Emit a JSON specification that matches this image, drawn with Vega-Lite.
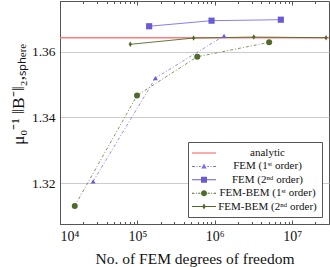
{
  "$schema": "https://vega.github.io/schema/vega-lite/v6.json",
  "width": 269,
  "height": 223,
  "autosize": {"type": "none"},
  "padding": {"left": 60, "top": 1, "right": 1, "bottom": 43},
  "background": "white",
  "config": {
    "view": {"stroke": "#555", "strokeWidth": 1},
    "font": "Liberation Serif",
    "axis": {"labelFont": "Liberation Serif", "titleFont": "Liberation Serif", "labelColor": "#111", "titleColor": "#111", "titleFontWeight": "normal", "domainColor": "#555", "tickColor": "#555"}
  },
  "datasets": {
    "pts": [
      {"series": "FEM (1ˢᵗ order)", "dofs": 26800, "value": 1.3205},
      {"series": "FEM (1ˢᵗ order)", "dofs": 171000, "value": 1.352},
      {"series": "FEM (1ˢᵗ order)", "dofs": 1320000, "value": 1.3649},
      {"series": "FEM (2ⁿᵈ order)", "dofs": 142000, "value": 1.3678},
      {"series": "FEM (2ⁿᵈ order)", "dofs": 910000, "value": 1.3695},
      {"series": "FEM (2ⁿᵈ order)", "dofs": 7150000, "value": 1.3698},
      {"series": "FEM-BEM (1ˢᵗ order)", "dofs": 15500, "value": 1.313},
      {"series": "FEM-BEM (1ˢᵗ order)", "dofs": 99000, "value": 1.3467},
      {"series": "FEM-BEM (1ˢᵗ order)", "dofs": 595000, "value": 1.3585},
      {"series": "FEM-BEM (1ˢᵗ order)", "dofs": 5050000, "value": 1.3629},
      {"series": "FEM-BEM (2ⁿᵈ order)", "dofs": 81000, "value": 1.3623},
      {"series": "FEM-BEM (2ⁿᵈ order)", "dofs": 533000, "value": 1.3642},
      {"series": "FEM-BEM (2ⁿᵈ order)", "dofs": 3200000, "value": 1.3645},
      {"series": "FEM-BEM (2ⁿᵈ order)", "dofs": 27500000, "value": 1.3643}
    ],
    "ref": [{"series": "analytic", "value": 1.3643}]
  },
  "layer": [
    {
      "data": {"name": "ref"},
      "mark": {"type": "rule", "color": "#ff7b7b", "strokeWidth": 1.3},
      "encoding": {
        "y": {"field": "value", "type": "quantitative", "scale": {"domain": [1.3075, 1.3755], "nice": false, "zero": false},
          "axis": {"values": [1.32, 1.34, 1.36], "format": ".2f", "title": "μ₀⁻¹ ‖B⁻‖₂,ₛₚₕₑᵣₑ", "titleFontSize": 17.5, "titleY": 93, "labelFontSize": 13.5, "grid": true, "gridColor": "#cccccc", "ticks": false, "labelPadding": 5, "titlePadding": 4}}
      }
    },
    {
      "data": {"name": "pts"},
      "transform": [{"filter": "datum.series === 'FEM (1ˢᵗ order)'"}],
      "mark": {"type": "line", "strokeWidth": 0.8, "color": "#7a6ef0", "strokeDash": [3, 2, 1, 2]},
      "encoding": {
        "x": {"field": "dofs", "type": "quantitative",
          "scale": {"type": "log", "domain": [10000, 30000000], "nice": false},
          "axis": {"orient": "bottom", "title": "No. of FEM degrees of freedom", "titleFontSize": 15.5, "labelFontSize": 14, "grid": false, "labelOverlap": false, "labelPadding": 9, "titlePadding": 7,
            "values": [10000, 20000, 30000, 40000, 50000, 60000, 70000, 80000, 90000, 100000, 200000, 300000, 400000, 500000, 600000, 700000, 800000, 900000, 1000000, 2000000, 3000000, 4000000, 5000000, 6000000, 7000000, 8000000, 9000000, 10000000, 20000000],
            "labelExpr": "abs(log(datum.value)/LN10 - round(log(datum.value)/LN10)) < 0.001 ? '10' + ['⁰','¹','²','³','⁴','⁵','⁶','⁷','⁸','⁹'][round(log(datum.value)/LN10)] : ''",
            "tickSize": {"condition": {"test": "abs(log(datum.value)/LN10 - round(log(datum.value)/LN10)) < 0.001", "value": -4}, "value": -2.5}}},
        "y": {"field": "value", "type": "quantitative"}
      }
    },
    {
      "data": {"name": "pts"},
      "transform": [{"filter": "datum.series === 'FEM (2ⁿᵈ order)'"}],
      "mark": {"type": "line", "strokeWidth": 0.9, "color": "#7a6ef0"},
      "encoding": {
        "x": {"field": "dofs", "type": "quantitative",
          "axis": {"orient": "top", "title": null, "labels": false, "grid": false, "domain": false,
            "values": [10000, 20000, 30000, 40000, 50000, 60000, 70000, 80000, 90000, 100000, 200000, 300000, 400000, 500000, 600000, 700000, 800000, 900000, 1000000, 2000000, 3000000, 4000000, 5000000, 6000000, 7000000, 8000000, 9000000, 10000000, 20000000],
            "tickSize": {"condition": {"test": "abs(log(datum.value)/LN10 - round(log(datum.value)/LN10)) < 0.001", "value": -4}, "value": -2.5}}},
        "y": {"field": "value", "type": "quantitative"}
      }
    },
    {
      "data": {"name": "pts"},
      "transform": [{"filter": "datum.series === 'FEM-BEM (1ˢᵗ order)'"}],
      "mark": {"type": "line", "strokeWidth": 0.8, "color": "#5f7a3a", "strokeDash": [3, 2, 1, 2]},
      "encoding": {
        "x": {"field": "dofs", "type": "quantitative", "axis": null},
        "y": {"field": "value", "type": "quantitative"}
      }
    },
    {
      "data": {"name": "pts"},
      "transform": [{"filter": "datum.series === 'FEM-BEM (2ⁿᵈ order)'"}],
      "mark": {"type": "line", "strokeWidth": 0.9, "color": "#4f6b2a"},
      "encoding": {
        "x": {"field": "dofs", "type": "quantitative", "axis": null},
        "y": {"field": "value", "type": "quantitative"}
      }
    },
    {
      "data": {"name": "pts"},
      "transform": [{"filter": "datum.series === 'FEM (1ˢᵗ order)'"}],
      "mark": {"type": "point", "filled": true, "opacity": 1, "shape": "triangle-up", "size": 24, "color": "#6a5ad8"},
      "encoding": {
        "x": {"field": "dofs", "type": "quantitative", "axis": null},
        "y": {"field": "value", "type": "quantitative"}
      }
    },
    {
      "data": {"name": "pts"},
      "transform": [{"filter": "datum.series === 'FEM (2ⁿᵈ order)'"}],
      "mark": {"type": "point", "filled": true, "opacity": 1, "shape": "square", "size": 38, "color": "#6a5ad8"},
      "encoding": {
        "x": {"field": "dofs", "type": "quantitative", "axis": null},
        "y": {"field": "value", "type": "quantitative"}
      }
    },
    {
      "data": {"name": "pts"},
      "transform": [{"filter": "datum.series === 'FEM-BEM (1ˢᵗ order)'"}],
      "mark": {"type": "point", "filled": true, "opacity": 1, "shape": "circle", "size": 36, "color": "#4f6b2a"},
      "encoding": {
        "x": {"field": "dofs", "type": "quantitative", "axis": null},
        "y": {"field": "value", "type": "quantitative"}
      }
    },
    {
      "data": {"name": "pts"},
      "transform": [{"filter": "datum.series === 'FEM-BEM (2ⁿᵈ order)'"}],
      "mark": {"type": "point", "filled": true, "opacity": 1, "shape": "M0,-1L0.6,0L0,1L-0.6,0Z", "size": 30, "color": "#4f6b2a"},
      "encoding": {
        "x": {"field": "dofs", "type": "quantitative", "axis": null},
        "y": {"field": "value", "type": "quantitative"}
      }
    },
    {
      "data": {"values": []},
      "mark": {"type": "point", "filled": true, "opacity": 1, "strokeWidth": 0},
      "encoding": {
        "shape": {"field": "series", "type": "nominal",
          "scale": {"domain": ["analytic", "FEM (1ˢᵗ order)", "FEM (2ⁿᵈ order)", "FEM-BEM (1ˢᵗ order)", "FEM-BEM (2ⁿᵈ order)"],
            "range": [
              "M-2,-0.09H2V0.09H-2Z",
              "M-2,-0.08H-1.5V0.08H-2ZM-1.25,-0.08H-1.1V0.08H-1.25ZM-0.85,-0.08H-0.55V0.08H-0.85ZM0,-0.5L0.45,0.35L-0.45,0.35ZM0.55,-0.08H0.85V0.08H0.55ZM1.1,-0.08H1.25V0.08H1.1ZM1.5,-0.08H2V0.08H1.5Z",
              "M-2,-0.08H2V0.08H-2ZM-0.5,-0.5H0.5V0.5H-0.5Z",
              "M-2,-0.08H-1.6V0.08H-2ZM-1.35,-0.08H-1.2V0.08H-1.35ZM-0.95,-0.08H-0.6V0.08H-0.95ZM-0.5,0A0.5,0.5 0 1,0 0.5,0A0.5,0.5 0 1,0 -0.5,0ZM0.6,-0.08H0.95V0.08H0.6ZM1.2,-0.08H1.35V0.08H1.2ZM1.6,-0.08H2V0.08H1.6Z",
              "M-2,-0.08H2V0.08H-2ZM0,-0.5L0.3,0L0,0.5L-0.3,0Z"
            ]},
          "legend": {"title": null, "orient": "bottom-right", "offset": 7, "symbolSize": 144, "symbolStrokeWidth": 0, "symbolOffset": 5, "symbolOpacity": 1, "labelFont": "Liberation Serif", "labelFontSize": 11, "labelColor": "#111", "labelAlign": "center", "labelOffset": 57.5, "strokeColor": "#555", "fillColor": "white", "padding": 5, "rowPadding": 2.4, "cornerRadius": 0}},
        "color": {"field": "series", "type": "nominal",
          "scale": {"domain": ["analytic", "FEM (1ˢᵗ order)", "FEM (2ⁿᵈ order)", "FEM-BEM (1ˢᵗ order)", "FEM-BEM (2ⁿᵈ order)"], "range": ["#ff6060", "#7a6ef0", "#6a5ad8", "#4f6b2a", "#4f6b2a"]},
          "legend": {"title": null, "orient": "bottom-right", "offset": 7, "symbolSize": 144, "symbolStrokeWidth": 0, "symbolOffset": 5, "symbolOpacity": 1, "labelFont": "Liberation Serif", "labelFontSize": 11, "labelColor": "#111", "labelAlign": "center", "labelOffset": 57.5, "strokeColor": "#555", "fillColor": "white", "padding": 5, "rowPadding": 2.4, "cornerRadius": 0}}
      }
    }
  ]
}
